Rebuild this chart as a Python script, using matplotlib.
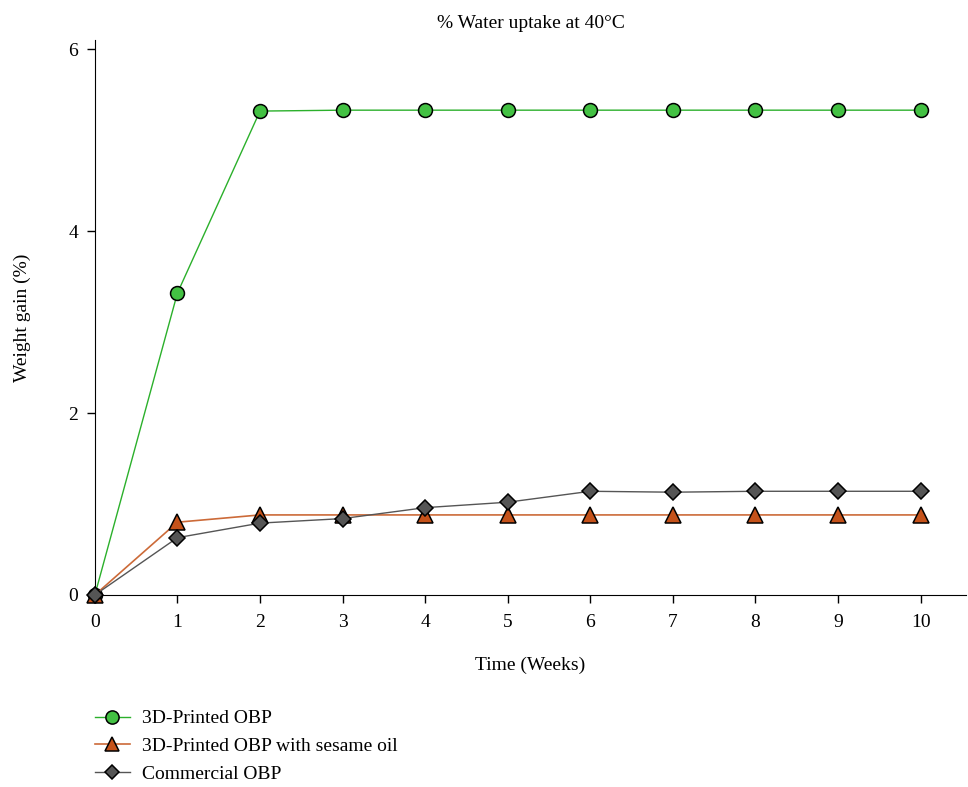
import matplotlib
matplotlib.use("Agg")
import matplotlib.pyplot as plt

plt.rcParams['font.family'] = ['Liberation Serif', 'DejaVu Serif']

weeks = [0, 1, 2, 3, 4, 5, 6, 7, 8, 9, 10]
printed = [0, 3.32, 5.32, 5.33, 5.33, 5.33, 5.33, 5.33, 5.33, 5.33, 5.33]
sesame = [0, 0.80, 0.88, 0.88, 0.88, 0.88, 0.88, 0.88, 0.88, 0.88, 0.88]
commercial = [0, 0.63, 0.79, 0.84, 0.96, 1.02, 1.14, 1.13, 1.14, 1.14, 1.14]

fig = plt.figure(figsize=(9.68, 7.87), dpi=100)
ax = fig.add_axes([0.098, 0.244, 0.9, 0.705])

# markers at week 0 sit on the axes corner, so don't clip them
ax.plot(weeks, printed, color="#2bb02b", lw=1, marker="o", ms=10,
        mfc="#43c143", mec="black", mew=1.1, label="3D-Printed OBP",
        clip_on=False, zorder=3)
ax.plot(weeks, sesame, color="#cc6a38", lw=1.2, marker="^", ms=11,
        mfc="#c5521a", mec="black", mew=1.1, label="3D-Printed OBP with sesame oil",
        clip_on=False, zorder=4)
ax.plot(weeks, commercial, color="#555555", lw=1, marker="D", ms=8,
        mfc="#555555", mec="black", mew=1.1, label="Commercial OBP",
        clip_on=False, zorder=5)

ax.set_xlim(0, 10.55)
ax.set_ylim(0, 6.1)
ax.set_xticks(weeks)
ax.set_yticks([0, 2, 4, 6])
ax.spines['top'].set_visible(False)
ax.spines['right'].set_visible(False)
ax.tick_params(labelsize=14, length=6, width=1)
ax.tick_params(axis='x', pad=8)
ax.tick_params(axis='y', pad=6)
ax.set_xlabel("Time (Weeks)", fontsize=14, labelpad=18)
ax.set_ylabel("Weight gain (%)", fontsize=14, labelpad=27)
ax.set_title("% Water uptake at 40°C", fontsize=14, pad=9)

fig.legend(loc="upper left", bbox_to_anchor=(0.09, 0.108), frameon=False,
           fontsize=14, handlelength=1.8, handletextpad=0.6,
           labelspacing=0.52, borderaxespad=0, markerscale=0.95)

fig.savefig("out.png", dpi=100)
